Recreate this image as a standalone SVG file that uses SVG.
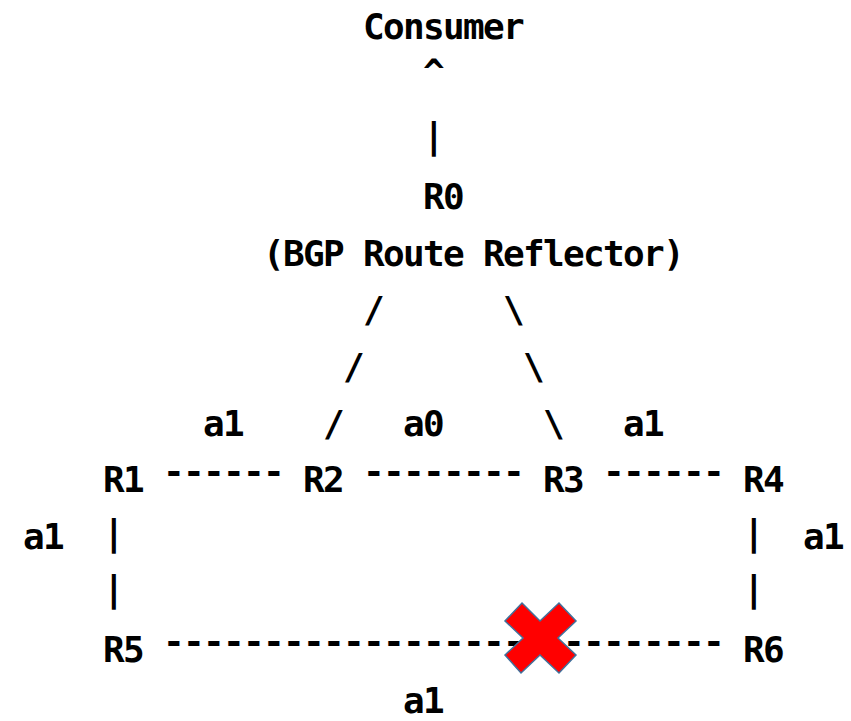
<svg xmlns="http://www.w3.org/2000/svg" width="851" height="721" viewBox="0 0 851 721">
<style>
text{font-family:"DejaVu Sans Mono","Liberation Mono",monospace;font-size:36px;font-weight:bold;letter-spacing:-1.67px;fill:#000}
.x{fill:#FF0000;stroke:#41719C;stroke-width:1.5;stroke-linejoin:miter}
</style>
<rect width="851" height="721" fill="#fff"/>
<g id="consumer"><text x="363" y="39">Consumer</text></g>
<g id="R0"><text x="423" y="209">R0</text><text x="263" y="266">(BGP Route Reflector)</text></g>
<g id="R1"><text x="103" y="492">R1</text></g>
<g id="R2"><text x="303" y="492">R2</text></g>
<g id="R3"><text x="543" y="492">R3</text></g>
<g id="R4"><text x="743" y="492">R4</text></g>
<g id="R5"><text x="103" y="662">R5</text></g>
<g id="R6"><text x="743" y="662">R6</text></g>
<g id="connectors">
<text x="423" y="84">^</text>
<text x="423" y="148">|</text>
<text x="363" y="322">/</text>
<text x="503" y="322">\</text>
<text x="343" y="379">/</text>
<text x="523" y="379">\</text>
<text x="323" y="436">/</text>
<text x="543" y="436">\</text>
<text x="163" y="484">------</text>
<text x="363" y="484">--------</text>
<text x="603" y="484">------</text>
<text x="103" y="545">|</text>
<text x="103" y="601">|</text>
<text x="743" y="545">|</text>
<text x="743" y="601">|</text>
<text x="163" y="654">----------------------------</text>
</g>
<g id="labels">
<text x="203" y="436">a1</text>
<text x="403" y="436">a0</text>
<text x="623" y="436">a1</text>
<text x="23" y="549">a1</text>
<text x="803" y="549">a1</text>
<text x="403" y="713">a1</text>
</g>
<g id="failure">
<polygon class="x" points="522,603 540,621 559,603 576,621 558,638 576,655 559,673 540,655 521,673 505,655 523,638 505,621"/>
</g>
</svg>
